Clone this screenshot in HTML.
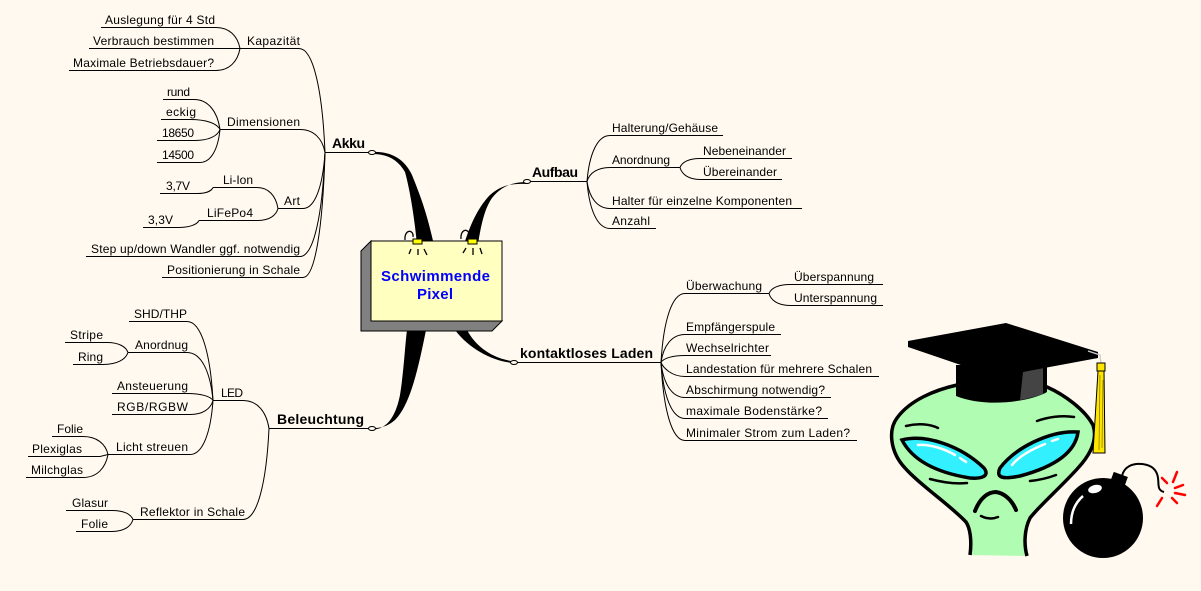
<!DOCTYPE html>
<html><head><meta charset="utf-8"><style>
html,body{margin:0;padding:0;background:#fff9ef;}
svg{display:block;}
text{font-family:"Liberation Sans",Arial,sans-serif;font-size:12px;fill:#000;}
.b{font-weight:bold;font-size:14px;}
</style></head><body>
<svg width="1201" height="591" viewBox="0 0 1201 591" xmlns="http://www.w3.org/2000/svg">
<rect width="1201" height="591" fill="#fff9ef"/>

<!-- thick branches -->
<g fill="#000">
<path d="M372,152 C392,151 405,160 412,175 C420,195 428,215 436,255 L418,255 C415,220 410,190 405,172 C398,160 388,154 372,154 Z"/>
<path d="M527,182 C510,182 500,188 492,198 C485,208 480,225 476,260 L460,260 C468,225 480,205 490,195 C500,186 510,183 527,184 Z"/>
<path d="M428,300 L426,330 C418,370 410,405 395,420 C388,426 382,428 373,428 L373,429.5 C385,429 395,420 400,395 C404,370 405,345 407,330 L407,300 Z"/>
<path d="M469,300 L467,330 C475,345 490,358 514,361.5 L514,363 C495,362 470,350 455,330 L452,300 Z"/>
</g>

<!-- central box -->
<polygon points="371,241 361,251 361,331 492,331 502,321 371,321" fill="#808080" stroke="#000" stroke-width="1"/>
<rect x="371" y="241" width="131" height="80" fill="#ffffc0" stroke="#000" stroke-width="1"/>
<g stroke="#000" stroke-width="1.3" fill="none">
<path d="M405,240 C404,229 414,229 413,237"/>
<path d="M461,239 C460,228 470,228 469,236"/>
<line x1="411" y1="249" x2="409" y2="254"/><line x1="418" y1="249" x2="418" y2="255"/><line x1="424" y1="249" x2="427" y2="255"/>
<line x1="466" y1="248" x2="463" y2="253"/><line x1="473" y1="248" x2="473" y2="255"/><line x1="480" y1="248" x2="482" y2="254"/>
</g>
<rect x="413" y="239" width="9" height="5" fill="#ffff00" stroke="#000" stroke-width="1"/>
<rect x="468" y="239" width="9" height="5" fill="#ffff00" stroke="#000" stroke-width="1"/>
<text x="381" y="281" textLength="109" style="font-size:15px;font-weight:bold;fill:#0000ff">Schwimmende</text>
<text x="417" y="299" textLength="36" style="font-size:15px;font-weight:bold;fill:#0000ff">Pixel</text>

<!-- thin lines -->
<g stroke="#000" stroke-width="1" fill="none" transform="translate(0,0.5)">
<path d="M325,152H372 M240,48H299 M101,27H216 M89,48H240 M69,70H216 M220,129H300 M163,99H194 M161,119H190 M157,140H195 M157,162H200 M278,208H303 M213,187H257 M160,193H197 M199,220H258 M143,227H178 M86,256H300 M162,277H303"/>
<path d="M269,428H372 M213,400H243 M129,321H187 M128,352H187 M65,342H107 M73,364H103 M112,393H187 M112,414H190 M108,454H190 M52,436H83 M28,456H100 L108,454 M26,477H83 M133,519H243 M66,510H112 M76,531H112"/>
<path d="M527,181H587 M610,135H723 M610,167H680 M700,158H792 M700,179H782 M610,208H802 M610,228H656"/>
<path d="M514,362H661 M685,293H769 M790,284H883 M790,305H883 M685,334H781 M685,355H771 M685,376H879 M685,397H831 M685,418H828 M685,440H857"/>
<path d="M299,48 C313.3,48 322.4,89.6 325,152"/>
<path d="M300,129 C313.75,129 322.5,138.2 325,152"/>
<path d="M303,208 C315.1,208 322.8,185.6 325,152"/>
<path d="M300,256 C313.75,256 322.5,214.4 325,152"/>
<path d="M303,277 C315.1,277 322.8,227 325,152"/>
<path d="M216,27 C229.2,27 237.6,35.4 240,48"/>
<path d="M216,70 C229.2,70 237.6,61.2 240,48"/>
<path d="M194,99 C208.3,99 217.4,111 220,129"/>
<path d="M190,119 C206.5,119 217,123 220,129"/>
<path d="M195,140 C208.75,140 217.5,135.6 220,129"/>
<path d="M200,162 C211,162 218,148.8 220,129"/>
<path d="M257,187 C268.55,187 275.9,195.4 278,208"/>
<path d="M258,220 C269,220 276,215.2 278,208"/>
<path d="M197,193 C205.8,193 211.4,190.6 213,187"/>
<path d="M178,227 C189.55,227 196.9,224.2 199,220"/>
<path d="M243,400 C257.3,400 266.4,411.2 269,428"/>
<path d="M243,519 C257.3,519 266.4,482.6 269,428"/>
<path d="M187,321 C201.3,321 210.4,352.6 213,400"/>
<path d="M187,352 C201.3,352 210.4,371.2 213,400"/>
<path d="M187,393 C201.3,393 210.4,395.8 213,400"/>
<path d="M190,414 C202.65,414 210.7,408.4 213,400"/>
<path d="M190,454 C202.65,454 210.7,432.4 213,400"/>
<path d="M107,342 C118.55,342 125.9,346 128,352"/>
<path d="M103,364 C116.75,364 125.5,359.2 128,352"/>
<path d="M83,436 C96.75,436 105.5,443.2 108,454"/>
<path d="M83,477 C96.75,477 105.5,467.8 108,454"/>
<path d="M112,510 C123.55,510 130.9,513.6 133,519"/>
<path d="M112,531 C123.55,531 130.9,526.2 133,519"/>
<path d="M610,135 C597.35,135 589.3,153.4 587,181"/>
<path d="M610,167 C597.35,167 589.3,172.6 587,181"/>
<path d="M610,208 C597.35,208 589.3,197.2 587,181"/>
<path d="M610,228 C597.35,228 589.3,209.2 587,181"/>
<path d="M700,158 C689,158 682,161.6 680,167"/>
<path d="M700,179 C689,179 682,174.2 680,167"/>
<path d="M685,293 C671.8,293 663.4,320.6 661,362"/>
<path d="M685,334 C671.8,334 663.4,345.2 661,362"/>
<path d="M685,355 C671.8,355 663.4,357.8 661,362"/>
<path d="M685,376 C671.8,376 663.4,367.6 661,362"/>
<path d="M685,397 C671.8,397 663.4,383 661,362"/>
<path d="M685,418 C671.8,418 663.4,395.6 661,362"/>
<path d="M685,440 C671.8,440 663.4,408.8 661,362"/>
<path d="M790,284 C778.45,284 771.1,287.6 769,293"/>
<path d="M790,305 C778.45,305 771.1,300.2 769,293"/>
</g>
<g fill="#fff9ef" stroke="#000" stroke-width="1">
<ellipse cx="372" cy="152.5" rx="3.5" ry="2"/>
<ellipse cx="527" cy="181.5" rx="3.5" ry="2"/>
<ellipse cx="372" cy="428.5" rx="3.5" ry="2"/>
<ellipse cx="514" cy="362.5" rx="3.5" ry="2"/>
</g>

<text x="332" y="148" class="b" textLength="33">Akku</text>
<text x="247" y="45" textLength="53">Kapazität</text>
<text x="105" y="24" textLength="110">Auslegung für 4 Std</text>
<text x="93" y="45" textLength="121">Verbrauch bestimmen</text>
<text x="73" y="67" textLength="141">Maximale Betriebsdauer?</text>
<text x="227" y="126" textLength="73">Dimensionen</text>
<text x="167" y="96" textLength="23">rund</text>
<text x="166" y="116" textLength="30">eckig</text>
<text x="162" y="137" textLength="32">18650</text>
<text x="162" y="159" textLength="32">14500</text>
<text x="284" y="205" textLength="16">Art</text>
<text x="223" y="184" textLength="30">Li-Ion</text>
<text x="166" y="190" textLength="24">3,7V</text>
<text x="207" y="217" textLength="46">LiFePo4</text>
<text x="148" y="224" textLength="25">3,3V</text>
<text x="91" y="253" textLength="209">Step up/down Wandler ggf. notwendig</text>
<text x="167" y="274" textLength="133">Positionierung in Schale</text>

<text x="277" y="424" class="b" textLength="87">Beleuchtung</text>
<text x="221" y="397" textLength="22">LED</text>
<text x="134" y="318" textLength="53">SHD/THP</text>
<text x="135" y="349" textLength="53">Anordnug</text>
<text x="70" y="339" textLength="33">Stripe</text>
<text x="78" y="361" textLength="25">Ring</text>
<text x="117" y="390" textLength="71">Ansteuerung</text>
<text x="117" y="411" textLength="71">RGB/RGBW</text>
<text x="116" y="451" textLength="72">Licht streuen</text>
<text x="57" y="433" textLength="26">Folie</text>
<text x="32" y="453" textLength="50">Plexiglas</text>
<text x="31" y="474" textLength="52">Milchglas</text>
<text x="140" y="516" textLength="105">Reflektor in Schale</text>
<text x="72" y="507" textLength="36">Glasur</text>
<text x="81" y="528" textLength="27">Folie</text>

<text x="532" y="177" class="b" textLength="46">Aufbau</text>
<text x="612" y="132" textLength="106">Halterung/Gehäuse</text>
<text x="612" y="164" textLength="58">Anordnung</text>
<text x="703" y="155" textLength="83">Nebeneinander</text>
<text x="703" y="176" textLength="74">Übereinander</text>
<text x="612" y="205" textLength="180">Halter für einzelne Komponenten</text>
<text x="612" y="225" textLength="38">Anzahl</text>

<text x="520" y="358" class="b" textLength="133">kontaktloses Laden</text>
<text x="686" y="290" textLength="76">Überwachung</text>
<text x="794" y="281" textLength="80">Überspannung</text>
<text x="794" y="302" textLength="83">Unterspannung</text>
<text x="686" y="331" textLength="89">Empfängerspule</text>
<text x="686" y="352" textLength="83">Wechselrichter</text>
<text x="686" y="373" textLength="186">Landestation für mehrere Schalen</text>
<text x="686" y="394" textLength="139">Abschirmung notwendig?</text>
<text x="686" y="415" textLength="136">maximale Bodenstärke?</text>
<text x="686" y="437" textLength="164">Minimaler Strom zum Laden?</text>

<g>
<path d="M970,555 C972,540 970,528 966,522 C950,505 920,485 905,468 C890,452 888,430 897,418 C910,400 935,390 957,385 L1047,387 C1065,395 1085,410 1093,425 C1098,440 1090,455 1078,468 C1060,488 1040,505 1030,518 C1024,530 1024,545 1027,556" fill="#b0fcb2" stroke="#000" stroke-width="3.5"/>
<path d="M902,440 C925,434 960,445 984,468 C990,476 982,479 970,478 C945,474 915,465 902,440 Z" fill="#33f0ff" stroke="#000" stroke-width="3.5"/>
<path d="M1078,432 C1050,430 1015,448 1000,468 C995,479 1005,479 1020,476 C1050,468 1075,455 1078,432 Z" fill="#33f0ff" stroke="#000" stroke-width="3.5"/>
<g stroke="#fff" stroke-width="2.5" fill="none" stroke-linecap="round">
<path d="M918,445 C930,444 945,449 955,455"/>
<path d="M960,458 L966,462"/>
<path d="M1012,465 C1020,455 1035,448 1045,444"/>
<path d="M1052,441 L1058,439"/>
</g>
<g stroke="#000" stroke-width="2.5" fill="none" stroke-linecap="round">
<path d="M906,426 C918,423 930,424 938,428"/>
<path d="M1037,421 C1048,417 1062,415 1074,417"/>
<path d="M930,479 C945,483 958,484 967,483"/>
<path d="M1030,481 C1040,480 1048,478 1056,475"/>
<path d="M975,511 C980,498 988,492 996,492 C1004,493 1012,500 1016,510" stroke-width="4"/>
<path d="M981,516 C987,519 993,519 998,517"/>
</g>
<path d="M956,365 L1047,365 L1047,392 C1030,402 985,408 956,396 Z" fill="#000"/>
<path d="M1023,372 L1043,368 L1043,394 C1038,396 1030,398 1020,400 Z" fill="#444"/>
<path d="M908,341 L1006,323 L1098,352 L1098,358 L996,377 L908,347 Z" fill="#000"/>
<path d="M1088,351 L1100,355 L1101,364" stroke="#ccc" stroke-width="1.3" fill="none"/>
<rect x="1097" y="363" width="8" height="8" fill="#ffe600" stroke="#000" stroke-width="1"/>
<path d="M1098,371 L1104,371 L1105,453 L1093,453 Z" fill="#ffe600" stroke="#000" stroke-width="1"/>
<path d="M1100,375 L1099,450 M1103,380 L1102,448" stroke="#8a7a00" stroke-width="0.8"/>
<path d="M1122,476 C1124,467 1132,463 1142,464 C1152,465 1157,470 1158,478 C1159,485 1157,490 1164,492" stroke="#000" stroke-width="2" fill="none"/>
<rect x="1112" y="474" width="15" height="9" transform="rotate(20 1119 478)" fill="#000"/>
<circle cx="1103" cy="518" r="40" fill="#000"/>
<path d="M1071,524 C1071,512 1075,503 1083,496" stroke="#fff" stroke-width="2.5" fill="none"/>
<ellipse cx="1095" cy="489" rx="7" ry="4" transform="rotate(-15 1095 489)" fill="#fff"/>
<g stroke="#f00" stroke-width="2.5" stroke-linecap="round">
<line x1="1162" y1="478" x2="1167" y2="483"/>
<line x1="1177" y1="472" x2="1173" y2="482"/>
<line x1="1183" y1="485" x2="1175" y2="488"/>
<line x1="1185" y1="495" x2="1175" y2="493"/>
<line x1="1177" y1="503" x2="1172" y2="498"/>
<line x1="1157" y1="506" x2="1162" y2="498"/>
</g>
</g>
</svg>
</body></html>
